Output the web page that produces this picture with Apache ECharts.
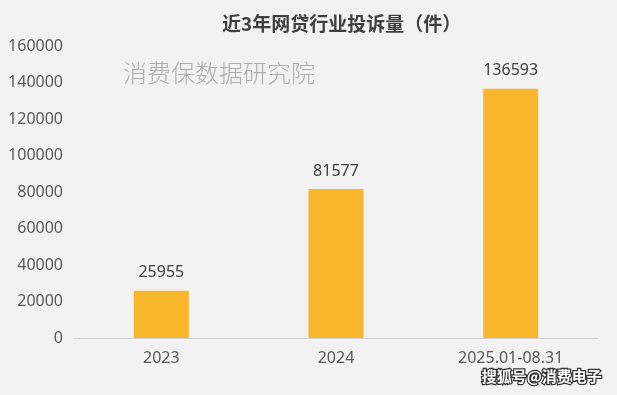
<!DOCTYPE html>
<html><head><meta charset="utf-8">
<script src="https://cdn.jsdelivr.net/npm/echarts@6/dist/echarts.min.js"></script>
<style>html,body{margin:0;padding:0;background:#f2f2f2;}#c{width:617px;height:395px;}</style>
</head><body><div id="c"></div>
<script>
const categories = ["2023", "2024", "2025.01-08.31"];
const complaints = [25955, 81577, 136593];
const yTicks = [0, 20000, 40000, 60000, 80000, 100000, 120000, 140000, 160000];
const titleText = "近3年网贷行业投诉量（件）";
const watermark1 = "消费保数据研究院";
const watermark2 = "搜狐号@消费电子";

const chart = echarts.init(document.getElementById('c'));
chart.setOption({
  backgroundColor: '#f2f2f2',
  animation: false,
  title: {
    text: titleText, left: 217, top: 9,
    textStyle: {fontFamily: 'Noto Sans CJK SC', fontSize: 19, fontWeight: 'bold', color: '#404040'}
  },
  graphic: [
    {type: 'text', left: 123, top: 61, style: {text: watermark1, font: '300 24px "Noto Sans CJK SC"', fill: '#adadad'}},
    {type: 'text', right: 14, top: 368, style: {text: watermark2, font: 'bold 15px "Noto Sans CJK SC"', fill: '#ffffff', stroke: '#333', lineWidth: 2.5}, z: 10}
  ],
  grid: {left: 74, right: 19, top: 46, bottom: 57},
  xAxis: {
    type: 'category', data: categories,
    axisLine: {show: true, lineStyle: {color: '#d0d0d0', width: 1}},
    axisTick: {show: false},
    axisLabel: {color: '#595959', fontSize: 16, fontFamily: 'Noto Sans', margin: 12}
  },
  yAxis: {
    type: 'value', min: yTicks[0], max: yTicks[yTicks.length - 1], interval: yTicks[1] - yTicks[0],
    splitLine: {show: false},
    axisLine: {show: false}, axisTick: {show: false},
    axisLabel: {color: '#595959', fontSize: 16, fontFamily: 'Noto Sans', margin: 11, align: 'right', formatter: v => String(v)}
  },
  series: [{
    type: 'bar', data: complaints, barWidth: 55,
    itemStyle: {color: '#f8b62d'},
    label: {show: true, position: 'top', distance: 10, color: '#404040', fontSize: 16, fontFamily: 'Noto Sans'}
  }]
});
</script></body></html>
